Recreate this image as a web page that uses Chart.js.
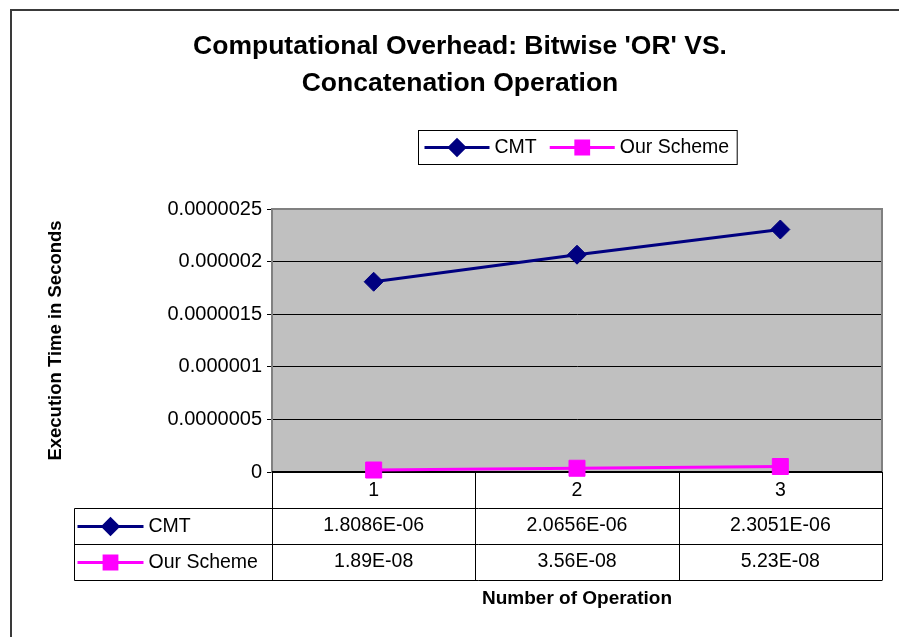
<!DOCTYPE html>
<html>
<head>
<meta charset="utf-8">
<title>Computational Overhead</title>
<script src="https://cdn.jsdelivr.net/npm/chart.js@4.4.1/dist/chart.umd.min.js"></script>
<style>
  html, body { margin: 0; padding: 0; background: #fff; }
  canvas { display: block; }
</style>
</head>
<body>
<canvas id="chart" width="899" height="637"></canvas>
<script>
const categories = ['1', '2', '3'];
const cmtValues = [1.8086e-6, 2.0656e-6, 2.3051e-6];
const ourSchemeValues = [1.89e-8, 3.56e-8, 5.23e-8];
const yTickLabels = ['0', '0.0000005', '0.000001', '0.0000015', '0.000002', '0.0000025'];

const FONT = '"Liberation Sans", Arial, sans-serif';
const NAVY = '#000080';
const MAGENTA = '#FF00FF';
const TXT = 19.5;

// Excel "General" style for tiny numbers: 1.8086E-06
function excelExp(v) {
  const [m, e] = v.toExponential().split('e');
  const n = parseInt(e, 10);
  return m + 'E' + (n < 0 ? '-' : '+') + String(Math.abs(n)).padStart(2, '0');
}

function line(ctx, x1, y1, x2, y2) {
  ctx.beginPath();
  ctx.moveTo(x1, y1);
  ctx.lineTo(x2, y2);
  ctx.stroke();
}

// line + marker sample, like the Excel legend keys
function drawKey(ctx, ds, x1, x2, y) {
  ctx.save();
  ctx.strokeStyle = ds.borderColor;
  ctx.lineWidth = 3;
  line(ctx, x1, y, x2, y);
  ctx.fillStyle = ds.pointBackgroundColor;
  ctx.strokeStyle = ds.pointBorderColor;
  Chart.helpers.drawPoint(ctx, {
    pointStyle: ds.pointStyle,
    radius: ds.pointRadius * 0.8,
    rotation: 0,
    borderWidth: 1
  }, (x1 + x2) / 2, y);
  ctx.restore();
}

const excelFrame = {
  id: 'excelFrame',
  beforeDraw(chart) {
    const { ctx, chartArea: a, width, height } = chart;
    ctx.save();
    ctx.fillStyle = '#fff';
    ctx.fillRect(0, 0, width, height);
    ctx.strokeStyle = '#3a3a3a';
    ctx.lineWidth = 2;
    ctx.strokeRect(11, 10, width + 20, height + 20);
    ctx.fillStyle = '#C0C0C0';
    ctx.fillRect(a.left, a.top, a.right - a.left, a.bottom - a.top);
    ctx.restore();
  },
  beforeDatasetsDraw(chart) {
    const { ctx, chartArea: a } = chart;
    const x = chart.scales.x;
    ctx.save();
    // plot area border
    ctx.strokeStyle = '#808080';
    ctx.lineWidth = 2;
    ctx.strokeRect(a.left, a.top, a.right - a.left, a.bottom - a.top);

    // data table under the axis
    const rowH = 36;
    const tableLeft = 74.5;
    const r1 = Math.round(a.bottom + rowH) + 0.5;
    const r2 = r1 + rowH;
    const r3 = r2 + rowH;
    const half = (x.getPixelForTick(1) - x.getPixelForTick(0)) / 2;
    ctx.strokeStyle = '#000';
    ctx.lineWidth = 1;
    [r1, r2, r3].forEach(yy => line(ctx, tableLeft, yy, a.right, yy));
    line(ctx, tableLeft, r1, tableLeft, r3);
    const edges = categories.map((c, i) => x.getPixelForTick(i) - half);
    edges.push(x.getPixelForTick(categories.length - 1) + half);
    edges.forEach(ex => {
      const px = Math.round(ex) + 0.5;
      line(ctx, px, a.bottom, px, r3);
    });

    ctx.font = TXT + 'px ' + FONT;
    ctx.fillStyle = '#000';
    ctx.textBaseline = 'middle';
    chart.data.datasets.forEach((ds, k) => {
      const cy = r1 + k * rowH + 17;
      drawKey(ctx, ds, tableLeft + 3, tableLeft + 69, cy + 1);
      ctx.textAlign = 'left';
      ctx.fillText(ds.label, tableLeft + 74, cy + 1);
      ctx.textAlign = 'center';
      ds.data.forEach((v, i) => ctx.fillText(excelExp(v), x.getPixelForTick(i), cy));
    });

    // category axis line
    ctx.strokeStyle = '#000';
    ctx.lineWidth = 2;
    line(ctx, a.left, a.bottom, a.right, a.bottom);
    ctx.restore();
  },
  afterDraw(chart) {
    const { ctx, chartArea: a } = chart;
    const sets = chart.data.datasets;
    ctx.save();
    ctx.font = TXT + 'px ' + FONT;
    const keyW = 65, gap = 5, itemGap = 13, pad = 6;
    let w = pad * 2 + 2;
    sets.forEach((ds, i) => {
      w += keyW + gap + ctx.measureText(ds.label).width + (i < sets.length - 1 ? itemGap : 0);
    });
    const left = Math.round((a.left + a.right) / 2 - w / 2) + 0.5;
    const top = 130.5, h = 34;
    ctx.fillStyle = '#fff';
    ctx.fillRect(left, top, w, h);
    ctx.strokeStyle = '#000';
    ctx.lineWidth = 1;
    ctx.strokeRect(left, top, w, h);
    let cx = left + pad;
    const cy = top + h / 2;
    sets.forEach(ds => {
      drawKey(ctx, ds, cx, cx + keyW, cy);
      cx += keyW + gap;
      ctx.fillStyle = '#000';
      ctx.textAlign = 'left';
      ctx.textBaseline = 'middle';
      ctx.fillText(ds.label, cx, cy);
      cx += ctx.measureText(ds.label).width + itemGap;
    });
    ctx.restore();
  }
};

new Chart(document.getElementById('chart'), {
  type: 'line',
  data: {
    labels: categories,
    datasets: [
      {
        label: 'CMT',
        data: cmtValues,
        borderColor: NAVY,
        backgroundColor: NAVY,
        pointBackgroundColor: NAVY,
        pointBorderColor: NAVY,
        pointBorderWidth: 1,
        pointStyle: 'rectRot',
        pointRadius: 9.5,
        borderWidth: 3,
        clip: false
      },
      {
        label: 'Our Scheme',
        data: ourSchemeValues,
        borderColor: MAGENTA,
        backgroundColor: MAGENTA,
        pointBackgroundColor: MAGENTA,
        pointBorderColor: MAGENTA,
        pointBorderWidth: 1,
        pointStyle: 'rect',
        pointRadius: 11.3,
        borderWidth: 3,
        clip: false
      }
    ]
  },
  options: {
    responsive: false,
    animation: false,
    events: [],
    layout: { padding: { left: 38, right: 17, top: 0, bottom: 0 } },
    plugins: {
      legend: { display: false },
      tooltip: { enabled: false },
      title: {
        display: true,
        text: ["Computational Overhead: Bitwise 'OR' VS.", 'Concatenation Operation'],
        color: '#000',
        font: { family: FONT, size: 26.5, weight: 'bold', lineHeight: 37 / 26.5 },
        padding: { top: 28, bottom: 107 }
      }
    },
    scales: {
      x: {
        type: 'category',
        offset: true,
        grid: { display: false, drawTicks: false },
        border: { display: false },
        ticks: { color: '#000', font: { family: FONT, size: TXT }, padding: 7, maxRotation: 0 },
        title: {
          display: true,
          text: 'Number of Operation',
          color: '#000',
          font: { family: FONT, size: 19, weight: 'bold' },
          padding: { top: 0, bottom: 26.6 }
        },
        afterFit: s => { s.height = 165; }
      },
      y: {
        min: 0,
        max: 2.5e-6,
        ticks: {
          stepSize: 5e-7,
          color: '#000',
          font: { family: FONT, size: 20 },
          padding: 5,
          callback: (v, i) => yTickLabels[i]
        },
        grid: { color: '#000', lineWidth: 1, tickLength: 5, drawTicks: true },
        border: { display: true, color: '#000', width: 1 },
        title: {
          display: true,
          text: 'Execution Time in Seconds',
          color: '#000',
          font: { family: FONT, size: 18.5, weight: 'bold' },
          padding: { top: 7, bottom: 0 }
        },
        afterFit: s => { s.width = 234; }
      }
    }
  },
  plugins: [excelFrame]
});
</script>
</body>
</html>
